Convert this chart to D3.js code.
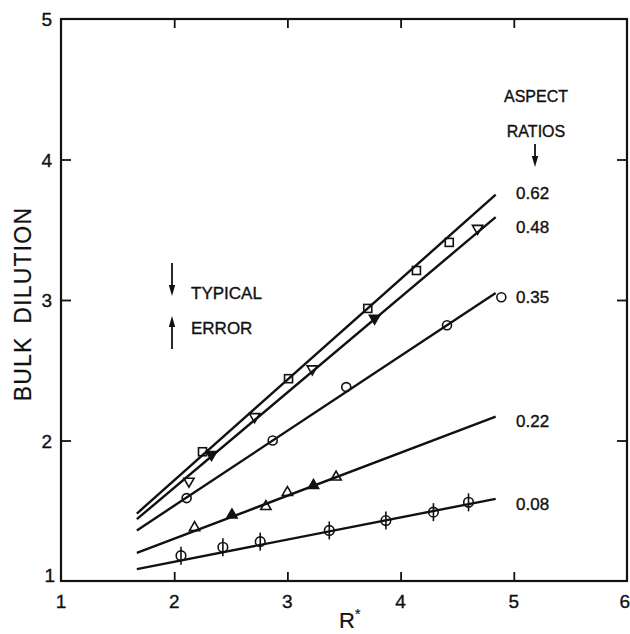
<!DOCTYPE html>
<html>
<head>
<meta charset="utf-8">
<script src="https://cdn.jsdelivr.net/npm/d3@7"></script>
<style>
  html, body { margin: 0; padding: 0; background: #fff; }
  svg { display: block; }
  text { font-family: "Liberation Sans", Arial, Helvetica, sans-serif; fill: #111; stroke: #111; stroke-width: 0.35; }
</style>
</head>
<body>
<svg id="chart" width="630" height="634"></svg>
<script>
// ---------------- data ----------------
const xTickValues = [1, 2, 3, 4, 5, 6];
const yTickValues = [1, 2, 3, 4, 5];
const ratios = ["0.62", "0.48", "0.35", "0.22", "0.08"];

// fitted lines (start / end x, and y at both ends)
const fitX = [1.67, 4.84];
const fitY0 = [1.48, 1.44, 1.36, 1.20, 1.085];
const fitY1 = [3.75, 3.59, 3.05, 2.17, 1.585];

// measured points
const r062x = [2.25, 3.01, 3.71, 4.14, 4.43];
const r062y = [1.92, 2.44, 2.94, 3.21, 3.41];
const r048x = [2.13, 2.33, 2.71, 3.22, 3.77, 4.68];
const r048y = [1.71, 1.90, 2.17, 2.51, 2.87, 3.51];
const r048filled = [0, 1, 0, 0, 1, 0];
const r035x = [2.11, 2.87, 3.52, 4.41, 4.89];
const r035y = [1.59, 2.00, 2.38, 2.82, 3.02];
const r022x = [2.18, 2.51, 2.81, 3.00, 3.23, 3.43];
const r022y = [1.38, 1.47, 1.53, 1.63, 1.68, 1.74];
const r022filled = [0, 1, 0, 0, 1, 0];
const r008x = [2.06, 2.43, 2.76, 3.37, 3.87, 4.29, 4.60];
const r008y = [1.18, 1.24, 1.28, 1.36, 1.43, 1.49, 1.56];

// label anchor heights (data units) for the ratio labels on the right
const ratioLabelY = [3.76, 3.52, 3.02, 2.14, 1.55];

// ---------------- layout ----------------
const svg = d3.select("#chart");
const L = 61, R = 627, T = 19, B = 581;
const x = d3.scaleLinear().domain([1, 6]).range([L, R]);
const y = d3.scaleLinear().domain([1, 5]).range([B, T]);
const stroke = "#111";

// frame
svg.append("rect")
  .attr("x", L).attr("y", T).attr("width", R - L).attr("height", B - T)
  .attr("fill", "none").attr("stroke", stroke).attr("stroke-width", 2.2);

// axes (inward ticks)
const inner = [2, 3, 4, 5];
const gB = svg.append("g").attr("transform", `translate(0,${B})`)
  .call(d3.axisBottom(x).tickValues(inner).tickSize(-9).tickFormat(""));
const gT = svg.append("g").attr("transform", `translate(0,${T})`)
  .call(d3.axisTop(x).tickValues(inner).tickSize(-9).tickFormat(""));
const gL = svg.append("g").attr("transform", `translate(${L},0)`)
  .call(d3.axisLeft(y).tickValues([2, 3, 4]).tickSize(-10).tickFormat(""));
const gR = svg.append("g").attr("transform", `translate(${R},0)`)
  .call(d3.axisRight(y).tickValues([2, 3, 4]).tickSize(-10).tickFormat(""));
[gB, gT, gL, gR].forEach(g => {
  g.select(".domain").remove();
  g.selectAll(".tick line").attr("stroke", stroke).attr("stroke-width", 1.8);
});

// tick labels
svg.append("g").selectAll("text").data(xTickValues).join("text")
  .attr("x", d => d === 6 ? 630 : x(d)).attr("y", B + 27)
  .attr("text-anchor", d => d === 6 ? "end" : "middle").attr("font-size", 19)
  .text(d => d);
svg.append("g").selectAll("text").data(yTickValues).join("text")
  .attr("x", d => d === 1 ? L - 6 : L - 9)
  .attr("y", d => d === 1 ? y(d) + 1 : y(d) + 7)
  .attr("text-anchor", "end").attr("font-size", 19)
  .text(d => d);

// axis titles
svg.append("text")
  .attr("transform", `translate(31,${(T + B) / 2 + 4}) rotate(-90)`)
  .attr("text-anchor", "middle").attr("font-size", 23)
  .attr("letter-spacing", 1.2)
  .style("stroke-width", 0.2)
  .text("BULK\u2002DILUTION");
const xl = svg.append("text")
  .attr("x", x(3.55)).attr("y", 628)
  .attr("text-anchor", "middle").attr("font-size", 22)
  .style("stroke-width", 0.2);
xl.append("tspan").text("R");
xl.append("tspan").attr("font-size", 14).attr("dy", -9).text("*");

// fitted lines
const line = d3.line().x(d => x(d[0])).y(d => y(d[1]));
ratios.forEach((r, i) => {
  svg.append("path")
    .datum([[fitX[0], fitY0[i]], [fitX[1], fitY1[i]]])
    .attr("d", line)
    .attr("fill", "none").attr("stroke", stroke).attr("stroke-width", 2.4);
});

// ratio labels
svg.append("g").selectAll("text").data(ratios).join("text")
  .attr("x", 516).attr("y", (d, i) => y(ratioLabelY[i]) + 6)
  .attr("font-size", 17)
  .text(d => d);

// markers
const mk = svg.append("g").attr("fill", "none").attr("stroke", stroke).attr("stroke-width", 1.6);
const zip = (a, b, f) => a.map((v, i) => ({ x: v, y: b[i], f: f ? f[i] : 0 }));

// 0.62 squares
mk.selectAll(".sq").data(zip(r062x, r062y)).join("rect")
  .attr("x", d => x(d.x) - 4).attr("y", d => y(d.y) - 4)
  .attr("width", 8).attr("height", 8);

// 0.48 inverted triangles
const tri = d3.symbol().type(d3.symbolTriangle).size(46);
mk.selectAll(".td").data(zip(r048x, r048y, r048filled)).join("path")
  .attr("d", tri)
  .attr("transform", d => `translate(${x(d.x)},${y(d.y)}) rotate(180)`)
  .attr("fill", d => d.f ? stroke : "none");

// 0.35 circles
mk.selectAll(".ci").data(zip(r035x, r035y)).join("circle")
  .attr("cx", d => x(d.x)).attr("cy", d => y(d.y)).attr("r", 4.5);

// 0.22 triangles
mk.selectAll(".tu").data(zip(r022x, r022y, r022filled)).join("path")
  .attr("d", tri)
  .attr("transform", d => `translate(${x(d.x)},${y(d.y)})`)
  .attr("fill", d => d.f ? stroke : "none");

// 0.08 circles with vertical bars
const g08 = mk.selectAll(".c8").data(zip(r008x, r008y)).join("g")
  .attr("transform", d => `translate(${x(d.x)},${y(d.y)})`);
g08.append("circle").attr("r", 4.8);
g08.append("line").attr("x1", 0).attr("x2", 0).attr("y1", -9).attr("y2", 9);

// "ASPECT RATIOS" header with arrow
svg.append("text").attr("x", 536).attr("y", 102).attr("text-anchor", "middle")
  .attr("font-size", 16).text("ASPECT");
svg.append("text").attr("x", 536).attr("y", 137).attr("text-anchor", "middle")
  .attr("font-size", 16).text("RATIOS");

// arrow helper
function arrow(xp, yFrom, yTo) {
  const dir = yTo > yFrom ? 1 : -1;
  svg.append("line").attr("x1", xp).attr("x2", xp)
    .attr("y1", yFrom).attr("y2", yTo - dir * 6)
    .attr("stroke", stroke).attr("stroke-width", 1.8);
  svg.append("path")
    .attr("d", `M${xp - 3.2},${yTo - dir * 11} L${xp + 3.2},${yTo - dir * 11} L${xp},${yTo} Z`)
    .attr("fill", stroke);
}
arrow(535, 144, 167);

// typical error
arrow(172, 263, 296);
arrow(172, 349, 316);
svg.append("text").attr("x", 191).attr("y", 299).attr("font-size", 17).text("TYPICAL");
svg.append("text").attr("x", 191).attr("y", 334).attr("font-size", 17).text("ERROR");
</script>
</body>
</html>
